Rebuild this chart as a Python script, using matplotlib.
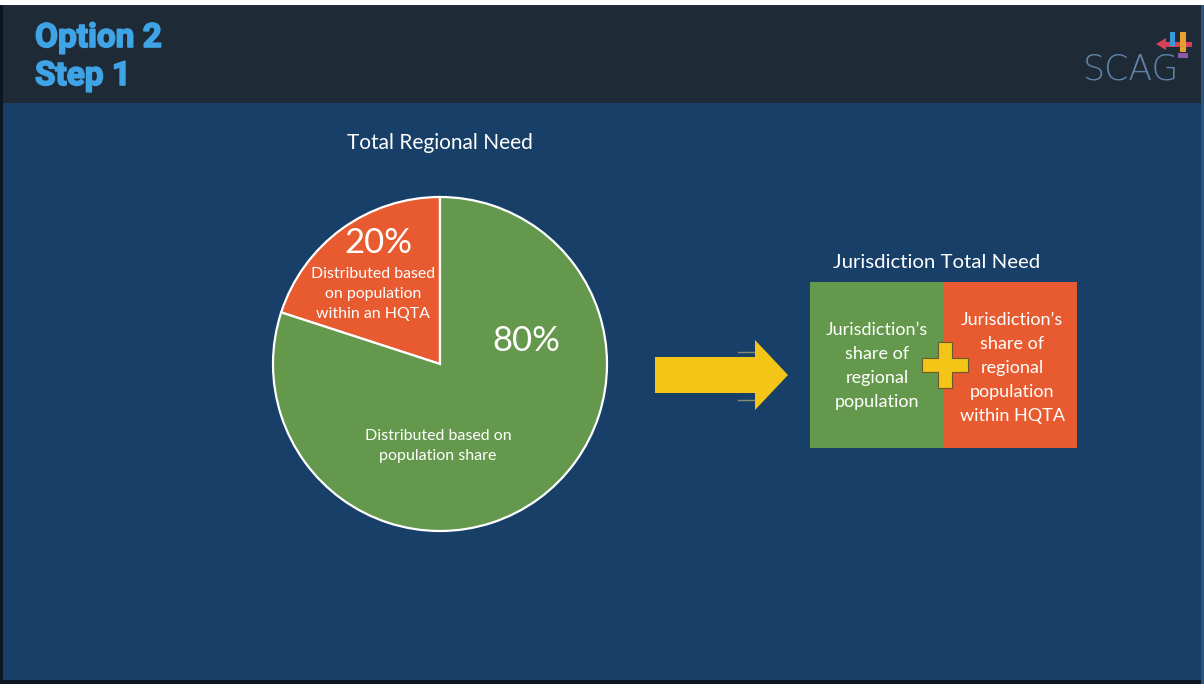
import matplotlib
matplotlib.use("Agg")
import matplotlib.pyplot as plt
from matplotlib.patches import Rectangle, Polygon
import matplotlib.patheffects as pe

# ---- data ----
title_lines = ["Option 2", "Step 1"]
pie_title = "Total Regional Need"
pie_labels = ["HQTA", "Population share"]
pie_values = [20, 80]
pie_descriptions = ["Distributed based\non population\nwithin an HQTA",
                    "Distributed based on\npopulation share"]
box_title = "Jurisdiction Total Need"
box_texts = ["Jurisdiction\u2019s\nshare of\nregional\npopulation",
             "Jurisdiction\u2019s\nshare of\nregional\npopulation\nwithin HQTA"]

# ---- style ----
W, H = 1204, 684
HEADER_BG = "#1f2a37"
BODY_BG = "#183f68"
GREEN = "#64984c"
ORANGE = "#e85b30"
YELLOW = "#f2c517"
TITLE_BLUE = "#3ea4e6"
FONT = "Lato"

def Y(y):
    return H - y

fig = plt.figure(figsize=(W / 100, H / 100), dpi=100)
ax = fig.add_axes([0, 0, 1, 1])
fig.patch.set_facecolor(BODY_BG)

# background panels
ax.add_patch(Rectangle((0, Y(684)), W, 684, facecolor=BODY_BG, edgecolor="none", zorder=0))
ax.add_patch(Rectangle((0, Y(103)), W, 98, facecolor=HEADER_BG, edgecolor="none", zorder=0))
ax.add_patch(Rectangle((0, Y(5)), W, 5, facecolor="white", edgecolor="none", zorder=0))
ax.add_patch(Rectangle((0, Y(684)), 3, 679, facecolor="#0c1622", edgecolor="none", zorder=0))
ax.add_patch(Rectangle((0, Y(684)), W, 4, facecolor="#0c1622", edgecolor="none", zorder=0))
ax.add_patch(Rectangle((W - 3, Y(684)), 3, 679, facecolor="#2a5580", edgecolor="none", zorder=0))

# header title
bold = [pe.withStroke(linewidth=1.2, foreground=TITLE_BLUE)]
ax.text(35, Y(38), title_lines[0], color=TITLE_BLUE, fontsize=24, fontweight="bold",
        family="Roboto", ha="left", va="center", zorder=3, path_effects=bold)
ax.text(35, Y(76), title_lines[1], color=TITLE_BLUE, fontsize=24, fontweight="bold",
        family="Roboto", ha="left", va="center", zorder=3, path_effects=bold)

# SCAG logo
ax.text(1131, Y(69), "SCAG", color="#5f82a6", fontsize=25, fontweight="light",
        family="DejaVu Sans", ha="center", va="center", zorder=3)
ax.add_patch(Polygon([(1156, Y(44)), (1166, Y(38)), (1166, Y(50))], closed=True,
                     facecolor="#d8405a", edgecolor="none", zorder=3))
ax.add_patch(Rectangle((1164, Y(47)), 28, 5, facecolor="#d8405a", edgecolor="none", zorder=3))
ax.add_patch(Rectangle((1170, Y(46)), 5, 14, facecolor="#3a9ad8", edgecolor="none", zorder=4))
ax.add_patch(Rectangle((1180, Y(52)), 6, 20, facecolor="#e8a030", edgecolor="none", zorder=4))
ax.add_patch(Rectangle((1178, Y(58)), 10, 5, facecolor="#8a5aa8", edgecolor="none", zorder=4))

# pie
cx, cy, r = 440, 364, 167
ax.pie(pie_values, colors=[ORANGE, GREEN], startangle=90, counterclock=True,
       center=(cx, Y(cy)), radius=r,
       wedgeprops=dict(edgecolor="white", linewidth=1.6), frame=True)

ax.text(cx, Y(143), pie_title, color="white", fontsize=15, family=FONT,
        ha="center", va="center", zorder=5)
ax.text(378, Y(243), f"{pie_values[0]}%", color="white", fontsize=25, family=FONT,
        ha="center", va="center", zorder=5)
ax.text(373, Y(294), pie_descriptions[0], color="white", fontsize=11.4, family=FONT,
        ha="center", va="center", linespacing=1.55, zorder=5)
ax.text(526, Y(341), f"{pie_values[1]}%", color="white", fontsize=25, family=FONT,
        ha="center", va="center", zorder=5)
ax.text(438, Y(446), pie_descriptions[1], color="white", fontsize=11.5, family=FONT,
        ha="center", va="center", linespacing=1.55, zorder=5)

# arrow
arrow_pts = [(655, 357), (755, 357), (755, 340), (788, 375), (755, 410), (755, 393), (655, 393)]
ax.add_patch(Polygon([(x, Y(y)) for x, y in arrow_pts], closed=True,
                     facecolor=YELLOW, edgecolor="none", zorder=3))
ax.plot([738, 755], [Y(352), Y(352)], color="#8a8a70", lw=1, zorder=2)
ax.plot([738, 755], [Y(400), Y(400)], color="#8a8a70", lw=1, zorder=2)

# boxes
bx0, bx1, bx2 = 810, 944, 1077
by0, by1 = 282, 448
ax.add_patch(Rectangle((bx0, Y(by1)), bx1 - bx0, by1 - by0, facecolor=GREEN,
                       edgecolor="none", zorder=3))
ax.add_patch(Rectangle((bx1, Y(by1)), bx2 - bx1, by1 - by0, facecolor=ORANGE,
                       edgecolor="none", zorder=3))
ax.text(937, Y(263), box_title, color="white", fontsize=14.7, family=FONT,
        ha="center", va="center", zorder=5)
ax.text(877, Y(366), box_texts[0], color="white", fontsize=13, family=FONT,
        ha="center", va="center", linespacing=1.63, zorder=5)
ax.text(1012, Y(368), box_texts[1], color="white", fontsize=13, family=FONT,
        ha="center", va="center", linespacing=1.6, zorder=5)

# plus sign (single outline)
px, py, arm, th = 945, 365, 23, 7
plus_pts = [(-th, -arm), (th, -arm), (th, -th), (arm, -th), (arm, th), (th, th),
            (th, arm), (-th, arm), (-th, th), (-arm, th), (-arm, -th), (-th, -th)]
ax.add_patch(Polygon([(px + dx, Y(py + dy)) for dx, dy in plus_pts], closed=True,
                     facecolor=YELLOW, edgecolor="#6a5a2a", linewidth=0.8, zorder=4))

ax.set_xlim(0, W)
ax.set_ylim(0, H)
ax.set_aspect("equal")
ax.axis("off")

fig.savefig("out.png", dpi=100, facecolor=fig.get_facecolor())
